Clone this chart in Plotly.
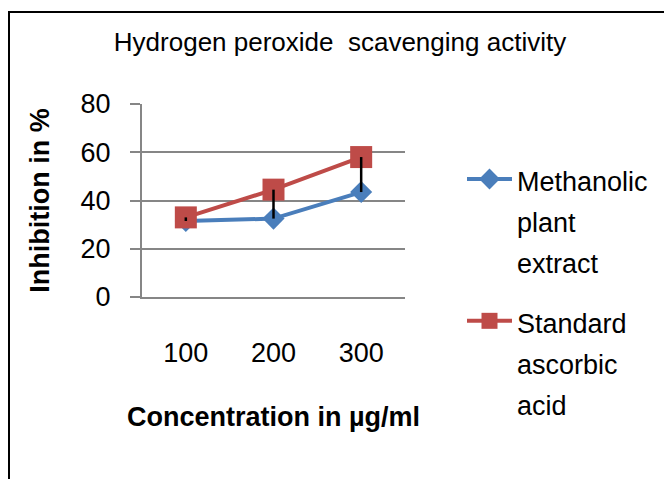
import plotly.graph_objects as go

categories = ["100", "200", "300"]
methanolic = [31.5, 32.5, 43.5]
ascorbic = [33, 44.5, 58]
series_names = ["Methanolic<br>plant<br>extract", "Standard<br>ascorbic<br>acid"]
y_ticks = [0, 20, 40, 60, 80]

FONT = "Liberation Sans"
OFF = 8  # browser body margin
SW, SH = 672, 479            # screenshot size
PX0, PX1, PY0, PY1 = 142, 405, 104, 297   # plot area in screenshot pixels
W, H = SW - OFF, SH - OFF
L, T = PX0 - OFF, PY0 - OFF
R, B = SW - PX1, SH - PY1
pw, ph = PX1 - PX0, PY1 - PY0

def px2paper_x(px):
    return (px - PX0) / pw

def px2paper_y(py):
    return (PY1 - py) / ph

def legend_label(name):
    return "<br>".join('<span style="font-size:27px">%s</span>' % s for s in name.split("<br>"))

fig = go.Figure()
fig.add_trace(go.Scatter(
    x=categories, y=methanolic, name=legend_label(series_names[0]),
    mode="lines+markers", legendgroup="a",
    line=dict(color="#4A7EBB", width=4),
    marker=dict(symbol="diamond", size=17, color="#4A7EBB"),
))
fig.add_trace(go.Scatter(
    x=categories, y=ascorbic, name=legend_label(series_names[1]),
    mode="lines+markers", legendgroup="b",
    line=dict(color="#BE4B48", width=4),
    marker=dict(symbol="square", size=22, color="#BE4B48"),
))
# high-low lines between the two series
hx, hy = [], []
for c, a, b in zip(categories, ascorbic, methanolic):
    hx += [c, c, None]
    hy += [a, b, None]
fig.add_trace(go.Scatter(
    x=hx, y=hy, mode="lines", showlegend=False, hoverinfo="skip",
    line=dict(color="black", width=2.5),
))

fig.update_layout(
    width=W, height=H,
    margin=dict(l=L, r=R, t=T, b=B, autoexpand=False),
    paper_bgcolor="white", plot_bgcolor="white",
    font=dict(family=FONT, color="black"),
    title=dict(text="Hydrogen peroxide  scavenging activity",
               font=dict(family=FONT, size=26, color="black"),
               x=0.5, xref="container", xanchor="center",
               y=1 - (42 - OFF) / H, yref="container", yanchor="middle"),
    showlegend=True,
    legend=dict(x=px2paper_x(462), xanchor="left", y=px2paper_y(152), yanchor="top",
                font=dict(family=FONT, size=31.5, color="black"),
                valign="top", tracegroupgap=16, itemwidth=45,
                maxheight=1000,
                bgcolor="rgba(0,0,0,0)"),
    xaxis=dict(
        type="category", categoryorder="array", categoryarray=categories,
        range=[-0.5, len(categories) - 0.5],
        showline=True, linecolor="#868686", linewidth=2,
        showgrid=False, ticks="", zeroline=False,
        tickfont=dict(family=FONT, size=27, color="black"),
        ticklabelstandoff=31,
        title=dict(text="<b>Concentration in µg/ml</b>", standoff=40,
                   font=dict(family=FONT, size=27, color="black")),
        fixedrange=True,
    ),
    yaxis=dict(
        range=[0, 80], tickvals=y_ticks, ticktext=[str(v) for v in y_ticks],
        showline=True, linecolor="#868686", linewidth=2,
        showgrid=True, gridcolor="#868686", gridwidth=1.5,
        ticks="outside", ticklen=10, tickcolor="#868686", tickwidth=1.5,
        zeroline=False,
        tickfont=dict(family=FONT, size=27, color="black"),
        ticklabelstandoff=14,
        title=dict(text="<b>Inhibition in %</b>", standoff=23,
                   font=dict(family=FONT, size=27, color="black")),
        fixedrange=True,
    ),
    shapes=[dict(type="rect", xref="paper", yref="paper",
                 x0=px2paper_x(9), x1=px2paper_x(700),
                 y0=px2paper_y(510), y1=px2paper_y(12),
                 line=dict(color="black", width=2), layer="above")],
)

fig.write_html("out.html")
